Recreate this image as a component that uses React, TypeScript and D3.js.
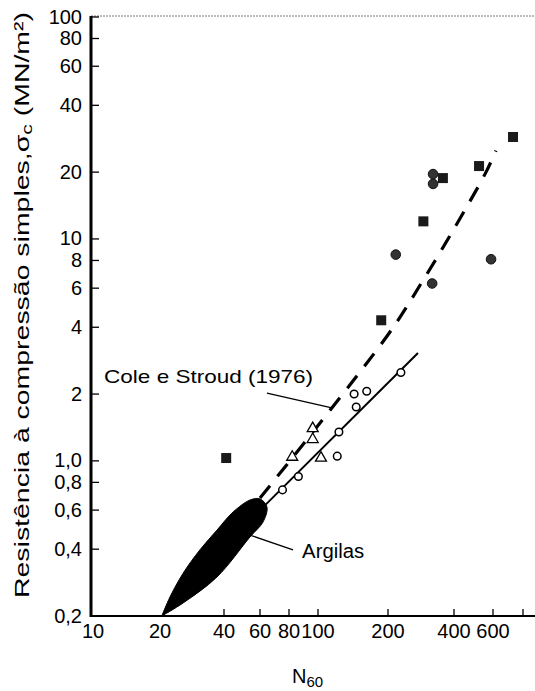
import React from "react";
import * as d3 from "d3";

// N60 vs. unconfined compressive strength (MN/m²), log–log
const xTickValues = [10, 20, 40, 60, 80, 100, 200, 400, 600, 800];
const xTickLabels = ["10", "20", "40", "60", "80", "100", "200", "400", "600", ""];
const yTickValues = [0.2, 0.4, 0.6, 0.8, 1, 2, 4, 6, 8, 10, 20, 40, 60, 80, 100];
const yTickLabels = ["0,2", "0,4", "0,6", "0,8", "1,0", "2", "4", "6", "8", "10", "20", "40", "60", "80", "100"];

// Measured points (N60, σc)
const filledSquares: [number, number][] = [
  [41, 1.03], [187, 4.3], [290, 12], [356, 18.8], [519, 21.3], [727, 28.8],
];
const filledCircles: [number, number][] = [
  [321, 19.6], [321, 17.7], [217, 8.5], [588, 8.1], [318, 6.3],
];
const openCircles: [number, number][] = [
  [229, 2.5], [162, 2.06], [143, 2.0], [146, 1.75], [123, 1.35], [121, 1.05], [86, 0.85], [75, 0.74],
];
const openTriangles: [number, number][] = [
  [96, 1.4], [96, 1.25], [82, 1.04], [103, 1.03],
];

// Trend lines
const solidTrend: [number, number][] = [[63, 0.63], [274, 3.06]];
const dashedTrend: [number, number][] = [
  [60, 0.68], [200, 3.7], [286, 6.4], [404, 11.3], [558, 20], [617, 25],
];

// Clay band outline ("Argilas"): tip, upper-left edge, cap, lower-right edge
const clayOutline: [number, number][] = [
  [20.4, 0.2], [22.3, 0.244], [25.7, 0.312], [30.8, 0.397], [37.1, 0.488], [44.3, 0.588],
  [53.6, 0.666], [60, 0.674], [64.3, 0.619], [61.8, 0.53], [53.6, 0.454], [37.1, 0.3],
  [25.7, 0.229], [20.4, 0.2],
];

// Annotation leaders
const coleLeader: [number, number][] = [[64.3, 2.02], [116, 1.73]];
const clayLeader: [number, number][] = [[53.6, 0.463], [82.5, 0.397]];
const coleLabelAt: [number, number] = [96.3, 2.24];
const clayLabelAt: [number, number] = [88.5, 0.365];

const FONT = "'Liberation Sans', Arial, Helvetica, sans-serif";

export default function App() {
  const W = 535;
  const H = 691;
  const left = 91;
  const bottom = 616;
  const top = 17;

  const x = d3
    .scaleLog()
    .domain([10, 20, 40, 60, 80, 100, 200, 400, 600, 800, 1000])
    .range([left, 160, 224, 260, 289, 318, 388, 454, 493, 523, 546]);
  const y = d3.scaleLog().domain([0.2, 100]).range([bottom, top]);

  const line = d3
    .line<[number, number]>()
    .x((d) => x(d[0]))
    .y((d) => y(d[1]));
  const curve = d3
    .line<[number, number]>()
    .x((d) => x(d[0]))
    .y((d) => y(d[1]))
    .curve(d3.curveCatmullRom.alpha(0.5));

  const tri = d3.symbol().type(d3.symbolTriangle).size(52)();

  const coleX = x(coleLabelAt[0]);
  const clayX = x(clayLabelAt[0]);

  return (
    <svg
      width={W}
      height={H}
      style={{ position: "absolute", left: 0, top: 0, background: "#fff" }}
      fontFamily={FONT}
    >
      <rect width={W} height={H} fill="#fff" />

      {/* top frame */}
      <line x1={left} x2={W} y1={16} y2={16} stroke="#777" strokeWidth={1} strokeDasharray="2 1" />

      {/* clay band */}
      <path d={curve(clayOutline) + "Z"} fill="#000" stroke="#000" strokeWidth={1} />

      {/* trend lines */}
      <path d={line(solidTrend)!} fill="none" stroke="#000" strokeWidth={2} />
      <path
        d={curve(dashedTrend)!}
        fill="none"
        stroke="#000"
        strokeWidth={3.2}
        strokeDasharray="16 12"
      />

      {/* leaders */}
      <path d={line(coleLeader)!} fill="none" stroke="#000" strokeWidth={1.3} />
      <path d={line(clayLeader)!} fill="none" stroke="#000" strokeWidth={1.3} />

      {/* points */}
      {openCircles.map((d, i) => (
        <circle key={"oc" + i} cx={x(d[0])} cy={y(d[1])} r={3.8} fill="#fff" stroke="#000" strokeWidth={1.5} />
      ))}
      {openTriangles.map((d, i) => (
        <path
          key={"tr" + i}
          d={tri!}
          transform={`translate(${x(d[0])},${y(d[1])})`}
          fill="#fff"
          stroke="#000"
          strokeWidth={1.3}
        />
      ))}
      {filledCircles.map((d, i) => (
        <circle key={"fc" + i} cx={x(d[0])} cy={y(d[1])} r={4.8} fill="#333" stroke="#111" strokeWidth={1} />
      ))}
      {filledSquares.map((d, i) => (
        <rect key={"fs" + i} x={x(d[0]) - 5} y={y(d[1]) - 5} width={10} height={10} fill="#1a1a1a" />
      ))}

      {/* axes */}
      <line x1={left} x2={left} y1={top - 1} y2={bottom + 1} stroke="#000" strokeWidth={3} />
      <line x1={left - 1} x2={W} y1={bottom} y2={bottom} stroke="#000" strokeWidth={2.2} />

      {yTickValues.map((v, i) => (
        <g key={"yt" + i}>
          {i > 0 && <line x1={left} x2={left + 8} y1={y(v)} y2={y(v)} stroke="#000" strokeWidth={1.3} />}
          <text x={82} y={y(v) + 6.5} textAnchor="end" fontSize={20}>
            {yTickLabels[i]}
          </text>
        </g>
      ))}
      {xTickValues.map((v, i) => (
        <g key={"xt" + i}>
          {i > 1 && <line x1={x(v)} x2={x(v)} y1={bottom} y2={bottom - 7} stroke="#000" strokeWidth={1.3} />}
          <text x={x(v) + (i === 0 ? 2 : 0)} y={638} textAnchor="middle" fontSize={20}>
            {xTickLabels[i]}
          </text>
        </g>
      ))}

      {/* axis titles */}
      <text x={292} y={683} fontSize={20}>
        N<tspan fontSize={15} dy={4}>60</tspan>
      </text>
      <text
        transform={`translate(29,598) rotate(-90)`}
        fontSize={20}
        textLength={586}
        lengthAdjust="spacingAndGlyphs"
      >
        Resistência à compressão simples,σ<tspan fontSize={15} dy={3}>c</tspan>
        <tspan dy={-3}> (MN/m²)</tspan>
      </text>

      {/* annotations */}
      <text
        x={coleX - 209}
        y={y(coleLabelAt[1])}
        fontSize={19}
        textLength={209}
        lengthAdjust="spacingAndGlyphs"
      >
        Cole e Stroud (1976)
      </text>
      <text x={clayX} y={y(clayLabelAt[1])} fontSize={19.5} textLength={62} lengthAdjust="spacingAndGlyphs">
        Argilas
      </text>
    </svg>
  );
}
